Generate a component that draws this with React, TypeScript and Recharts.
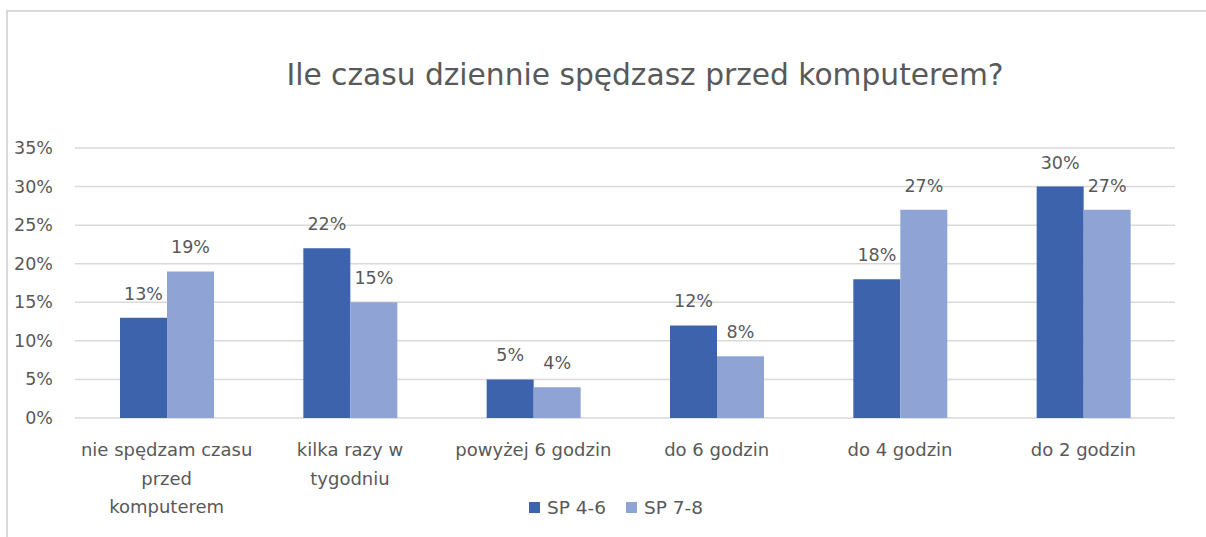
import React from "react";
import { BarChart, Bar, XAxis, YAxis, CartesianGrid, LabelList } from "recharts";

const categories = [
  "nie spędzam czasu\nprzed\nkomputerem",
  "kilka razy w\ntygodniu",
  "powyżej 6 godzin",
  "do 6 godzin",
  "do 4 godzin",
  "do 2 godzin",
];
const sp46 = [13, 22, 5, 12, 18, 30];
const sp78 = [19, 15, 4, 8, 27, 27];
const yTicks = [0, 5, 10, 15, 20, 25, 30, 35];
const title = "Ile czasu dziennie spędzasz przed komputerem?";

const data = categories.map((c, i) => ({ name: c, a: sp46[i], b: sp78[i] }));

const FONT = "'DejaVu Sans', sans-serif";
const GREY = "#595959";
const DARK = "#3C63AB";
const LIGHT = "#8FA4D4";

function XTick({ x, y, payload }: any) {
  const lines = String(payload.value).split("\n");
  return (
    <text x={x} y={y} textAnchor="middle" fill={GREY} fontSize={18} fontFamily={FONT}>
      {lines.map((l, i) => (
        <tspan key={i} x={x} dy={i === 0 ? 30 : 28.5}>
          {l}
        </tspan>
      ))}
    </text>
  );
}

function YTick({ y, payload }: any) {
  return (
    <text x={53} y={y} dy={6} textAnchor="end" fill={GREY} fontSize={17.5} fontFamily={FONT}>
      {payload.value}%
    </text>
  );
}

export default function App() {
  return (
    <div style={{ position: "absolute", left: 0, top: 0, width: 1206, height: 537, background: "#fff" }}>
      <div
        style={{
          position: "absolute",
          left: 6,
          top: 10,
          width: 1200,
          height: 527,
          borderTop: "2px solid #D9D9D9",
          borderLeft: "2px solid #D9D9D9",
        }}
      />
      <div
        style={{
          position: "absolute",
          left: 0,
          width: 1290,
          top: 56,
          textAlign: "center",
          fontFamily: FONT,
          fontSize: 29.7,
          lineHeight: "38px",
          color: GREY,
        }}
      >
        {title}
      </div>
      <div style={{ position: "absolute", left: 0, top: 0 }}>
        <BarChart
          width={1206}
          height={537}
          data={data}
          margin={{ top: 148, right: 31, bottom: 89, left: 0 }}
          barGap={0}
          barSize={47}
        >
          <CartesianGrid vertical={false} stroke="#D9D9D9" strokeWidth={1.5} />
          <XAxis dataKey="name" axisLine={false} tickLine={false} tick={<XTick />} interval={0} />
          <YAxis
            width={75}
            domain={[0, 35]}
            ticks={yTicks}
            axisLine={false}
            tickLine={false}
            tick={<YTick />}
          />
          <Bar dataKey="a" fill={DARK} isAnimationActive={false}>
            <LabelList dataKey="a" position="top" offset={18} formatter={(v: any) => `${v}%`} fill={GREY} fontSize={17.5} fontFamily={FONT} />
          </Bar>
          <Bar dataKey="b" fill={LIGHT} isAnimationActive={false}>
            <LabelList dataKey="b" position="top" offset={18} formatter={(v: any) => `${v}%`} fill={GREY} fontSize={17.5} fontFamily={FONT} />
          </Bar>
        </BarChart>
      </div>
      <div
        style={{
          position: "absolute",
          top: 497,
          left: 529,
          display: "flex",
          alignItems: "center",
          fontFamily: FONT,
          fontSize: 18.5,
          color: GREY,
        }}
      >
        <span style={{ width: 11, height: 11, background: DARK, display: "inline-block", marginRight: 7 }} />
        <span style={{ marginRight: 20 }}>SP 4-6</span>
        <span style={{ width: 11, height: 11, background: LIGHT, display: "inline-block", marginRight: 7 }} />
        <span>SP 7-8</span>
      </div>
    </div>
  );
}
